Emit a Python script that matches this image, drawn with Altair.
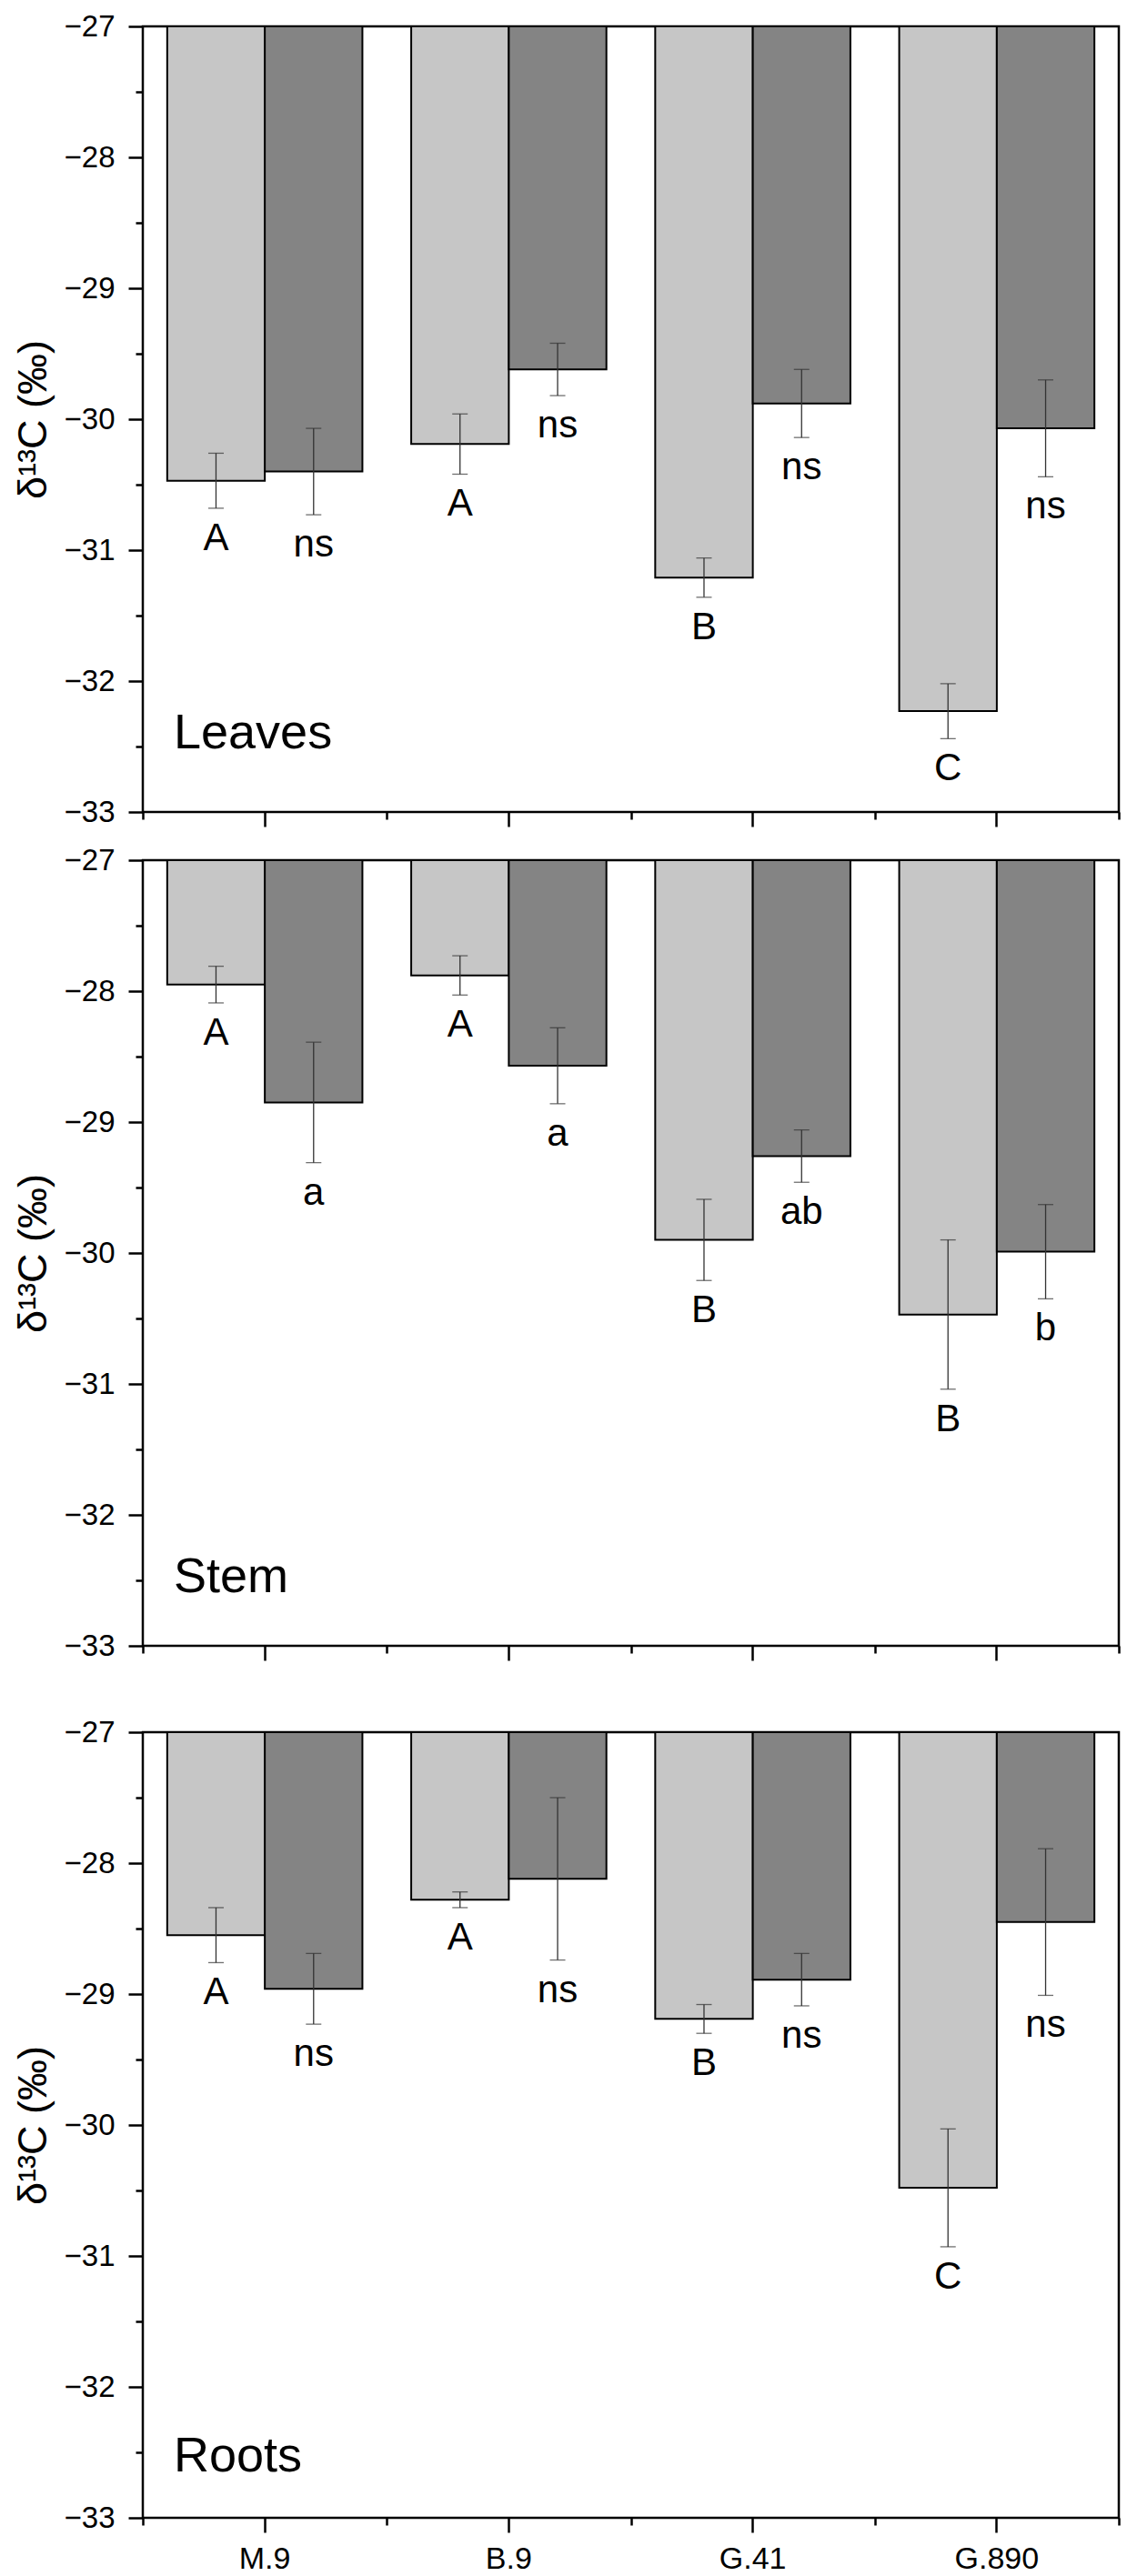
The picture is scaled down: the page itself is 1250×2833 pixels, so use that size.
import altair as alt
import pandas as pd

groups = ["M.9", "B.9", "G.41", "G.890"]
series = ["light", "dark"]
colors = ["#c6c6c6", "#848484"]

leaves_light = [-30.47, -30.19, -31.21, -32.23]
leaves_light_err = [0.21, 0.23, 0.15, 0.21]
leaves_light_let = ["A", "A", "B", "C"]
leaves_dark = [-30.40, -29.62, -29.88, -30.07]
leaves_dark_err = [0.33, 0.20, 0.26, 0.37]
leaves_dark_let = ["ns", "ns", "ns", "ns"]

stem_light = [-27.95, -27.88, -29.90, -30.47]
stem_light_err = [0.14, 0.15, 0.31, 0.57]
stem_light_let = ["A", "A", "B", "B"]
stem_dark = [-28.85, -28.57, -29.26, -29.99]
stem_dark_err = [0.46, 0.29, 0.20, 0.36]
stem_dark_let = ["a", "a", "ab", "b"]

roots_light = [-28.55, -28.28, -29.19, -30.48]
roots_light_err = [0.21, 0.06, 0.11, 0.45]
roots_light_let = ["A", "A", "B", "C"]
roots_dark = [-28.96, -28.12, -28.89, -28.45]
roots_dark_err = [0.27, 0.62, 0.20, 0.56]
roots_dark_let = ["ns", "ns", "ns", "ns"]

major_y = [-27, -28, -29, -30, -31, -32, -33]
minor_y = [-27.5, -28.5, -29.5, -30.5, -31.5, -32.5]

FONT = "Liberation Sans"
W, H = 1073, 864


def panel(name, label_y, light, lerr, llet, dark, derr, dlet, show_labels):
    rows = []
    for s, vals, errs, lets in [("light", light, lerr, llet), ("dark", dark, derr, dlet)]:
        for g, v, e, t in zip(groups, vals, errs, lets):
            rows.append({"group": g, "series": s, "mean": v, "lo": v - e, "hi": v + e, "letter": t})
    df = pd.DataFrame(rows)
    base = alt.Chart(df)
    xscale = alt.Scale(paddingInner=0, paddingOuter=0)
    yscale = alt.Scale(domain=[-33, -27], nice=False, zero=False)
    xoff = alt.XOffset("series:N", sort=series,
                       scale=alt.Scale(paddingInner=0, paddingOuter=0.25))

    main_x_axis = alt.Axis(orient="bottom", title=None, labels=show_labels, tickSize=16,
                           tickWidth=2.5, tickColor="black", domain=False, labelAngle=0,
                           labelFontSize=34, labelFont=FONT, labelColor="black",
                           labelPadding=12)
    minor_x_axis = alt.Axis(orient="bottom", title=None, labels=False, tickSize=8,
                            tickWidth=2.5, tickColor="black", domain=False,
                            tickBand="extent")
    main_y_axis = alt.Axis(orient="left", values=major_y, format="d", tickSize=16,
                           tickWidth=2.5, tickColor="black", domain=False,
                           labelFontSize=33, labelFont=FONT, labelColor="black",
                           labelPadding=15, title="δ¹³C (‰)", titleFont=FONT,
                           titleFontSize=45, titleFontWeight="normal", titleColor="black",
                           titlePadding=11)
    minor_y_axis = alt.Axis(orient="left", values=minor_y, labels=False, tickSize=8,
                            tickWidth=2.5, tickColor="black", domain=False, title=None)

    bars = base.mark_bar(stroke="black", strokeWidth=2).encode(
        x=alt.X("group:N", sort=groups, scale=xscale, axis=main_x_axis),
        xOffset=xoff,
        y=alt.Y("mean:Q", scale=yscale, axis=main_y_axis),
        y2=alt.datum(-27),
        color=alt.Color("series:N", sort=series,
                        scale=alt.Scale(domain=series, range=colors), legend=None),
    )
    rules = base.mark_rule(color="#333333", strokeWidth=1.3).encode(
        x=alt.X("group:N", sort=groups, scale=xscale, axis=minor_x_axis),
        xOffset=xoff,
        y=alt.Y("lo:Q", scale=yscale, axis=minor_y_axis),
        y2="hi:Q",
    )
    caps_lo = base.mark_tick(color="#333333", thickness=1.3, size=17).encode(
        x=alt.X("group:N", sort=groups, scale=xscale, axis=None),
        xOffset=xoff,
        y=alt.Y("lo:Q", scale=yscale, axis=None),
    )
    caps_hi = base.mark_tick(color="#333333", thickness=1.3, size=17).encode(
        x=alt.X("group:N", sort=groups, scale=xscale, axis=None),
        xOffset=xoff,
        y=alt.Y("hi:Q", scale=yscale, axis=None),
    )
    letters = base.mark_text(font=FONT, fontSize=42, color="black", baseline="alphabetic",
                             align="center", dy=46).encode(
        x=alt.X("group:N", sort=groups, scale=xscale, axis=None),
        xOffset=xoff,
        y=alt.Y("lo:Q", scale=yscale, axis=None),
        text="letter:N",
    )
    label = alt.Chart(pd.DataFrame({"name": [name]})).mark_text(
        font=FONT, fontSize=54, color="black", align="left", baseline="alphabetic"
    ).encode(x=alt.value(34), y=alt.value(label_y), text="name:N")

    return alt.layer(bars, rules, caps_lo, caps_hi, letters, label).resolve_axis(
        x="independent", y="independent"
    ).properties(width=W, height=H)


p1 = panel("Leaves", 794, leaves_light, leaves_light_err, leaves_light_let,
           leaves_dark, leaves_dark_err, leaves_dark_let, False)
p2 = panel("Stem", 805, stem_light, stem_light_err, stem_light_let,
           stem_dark, stem_dark_err, stem_dark_let, False)
p3 = panel("Roots", 813, roots_light, roots_light_err, roots_light_let,
           roots_dark, roots_dark_err, roots_dark_let, True)

chart = alt.vconcat(alt.vconcat(p1, p2, spacing=16), p3, spacing=58).properties(
    padding={"left": 4, "top": 3, "right": 5, "bottom": 5}
).configure_view(stroke="black", strokeWidth=2.5).configure_axis(grid=False)

chart.save("out.html", embed_options={"renderer": "svg", "actions": False})
